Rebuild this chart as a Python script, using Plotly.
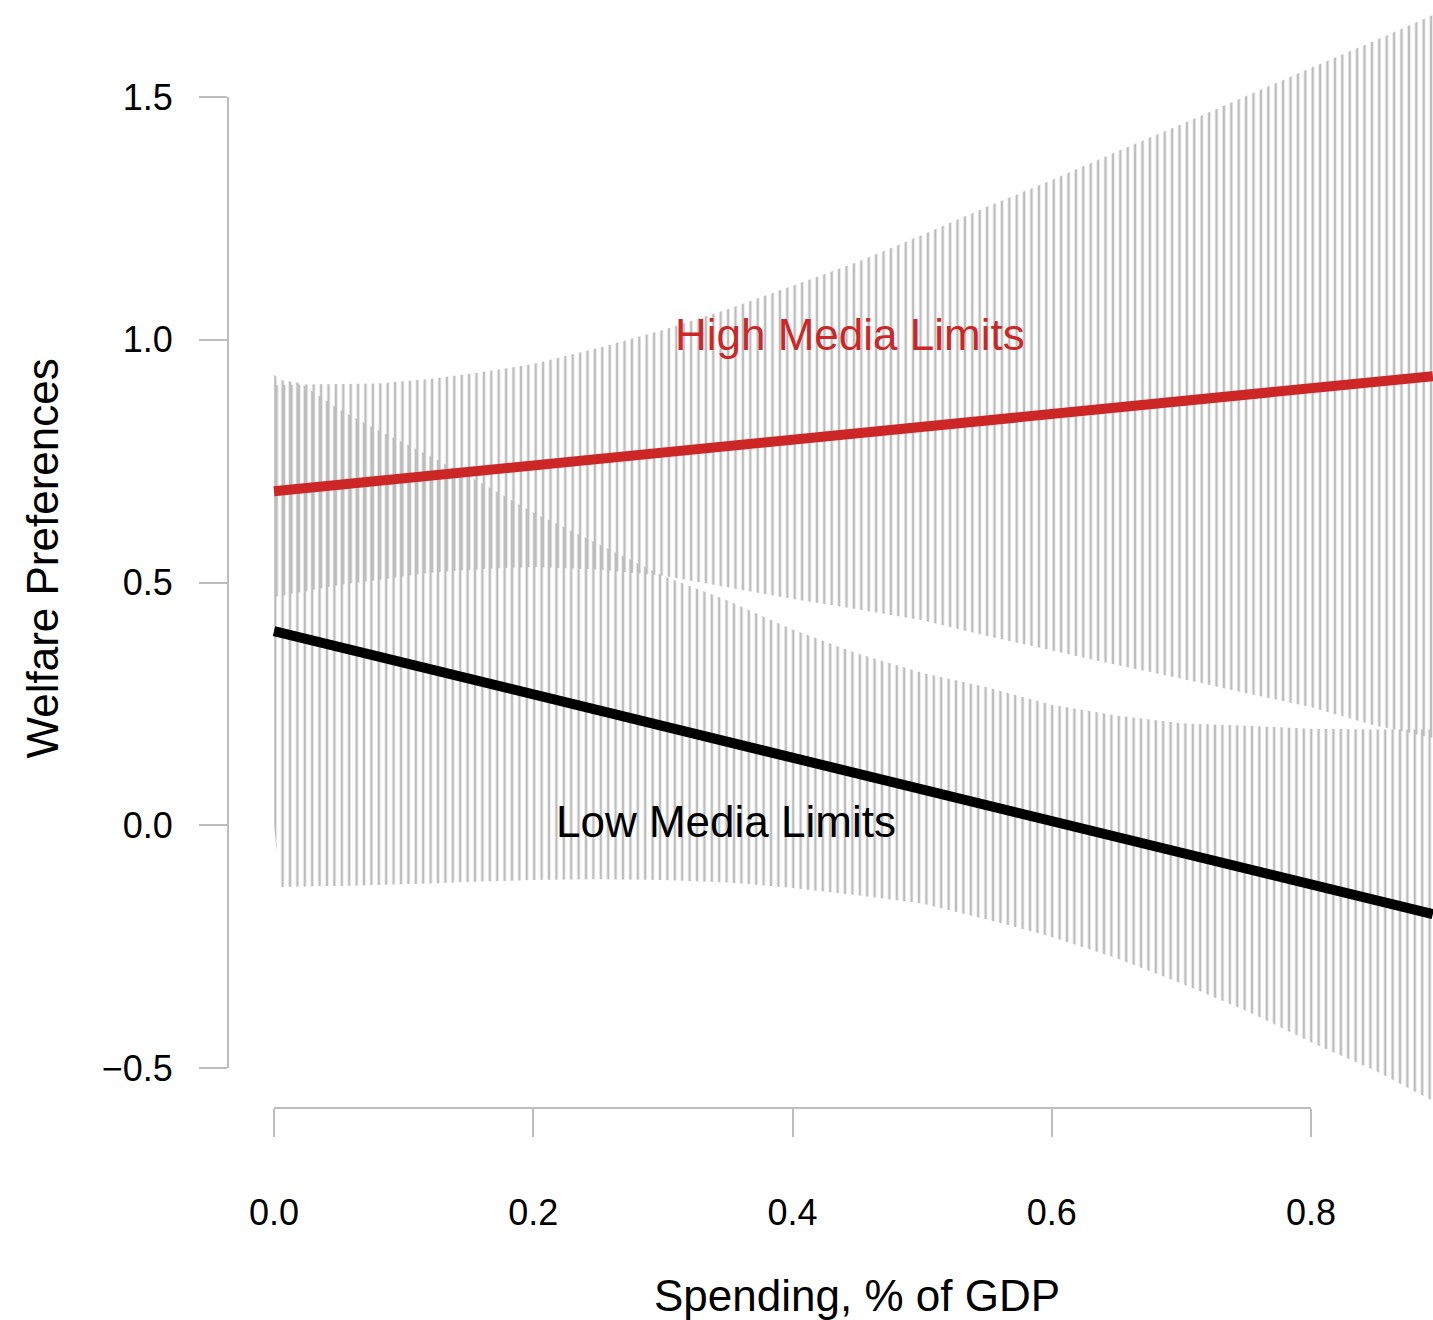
import plotly.graph_objects as go

# ---------------- data ----------------
x_grid = [0.0, 0.005, 0.02, 0.05, 0.08, 0.12, 0.16, 0.20, 0.25, 0.30, 0.35,
          0.40, 0.45, 0.50, 0.55, 0.60, 0.65, 0.70, 0.75, 0.80, 0.85, 0.894]

high_upper = [0.906, 0.907, 0.908, 0.909, 0.910, 0.919, 0.933, 0.950, 0.983, 1.020, 1.063,
              1.111, 1.160, 1.216, 1.274, 1.329, 1.387, 1.444, 1.502, 1.560, 1.617, 1.669]
high_lower = [0.470, 0.472, 0.480, 0.495, 0.505, 0.520, 0.528, 0.532, 0.527, 0.514, 0.490,
              0.466, 0.445, 0.422, 0.390, 0.360, 0.330, 0.302, 0.272, 0.243, 0.205, 0.180]

low_upper = [0.928, 0.917, 0.911, 0.857, 0.814, 0.761, 0.705, 0.644, 0.580, 0.514, 0.463,
             0.403, 0.354, 0.314, 0.284, 0.248, 0.226, 0.210, 0.205, 0.199, 0.197, 0.197]
low_lower = [0.000, -0.127, -0.126, -0.125, -0.123, -0.120, -0.116, -0.113, -0.111, -0.113, -0.118,
             -0.129, -0.144, -0.161, -0.194, -0.230, -0.274, -0.326, -0.382, -0.447, -0.506, -0.568]

line_x = [0.0, 0.894]
high_mean = [0.688, 0.925]
low_mean = [0.400, -0.183]

x_tickvals = [0.0, 0.2, 0.4, 0.6, 0.8]
x_ticktext = ["0.0", "0.2", "0.4", "0.6", "0.8"]
y_tickvals = [-0.5, 0.0, 0.5, 1.0, 1.5]
y_ticktext = ["\u22120.5", "0.0", "0.5", "1.0", "1.5"]

label_high = "High Media Limits"
label_low = "Low Media Limits"
x_title = "Spending, % of GDP"
y_title = "Welfare Preferences"

# ---------------- layout geometry ----------------
W, H = 1433, 1320
ML, MR, MT, MB = 228, 0, 0, 212
PW, PH = W - ML - MR, H - MT - MB
X0_PX, PX_PER_X = 274.0, 1296.25          # pixel of x=0, pixels per x unit
Y0_PX, PX_PER_Y = 825.25, 485.5           # pixel of y=0, pixels per y unit


def x_at(px):
    return (px - X0_PX) / PX_PER_X


def y_at(py):
    return (Y0_PX - py) / PX_PER_Y


x_range = [x_at(ML), x_at(W - MR)]
y_range = [y_at(H - MB), y_at(MT)]

PAT = 7.4        # hatch spacing, px
SOLID = 0.34     # hatch line thickness fraction
GRAY = "#bdbdbd"
RED = "#cd2626"
FONT = "Liberation Sans, Arial, Helvetica, sans-serif"

# hatch phase: put one hatch line just right of x=0 for each band (slightly offset)
low_left_px = X0_PX + 1.2 - PAT / 2 - 5 * PAT
high_left_px = X0_PX + 2.7 - PAT / 2 - 5 * PAT


def band_axes(left_px):
    dom = [(left_px - ML) / PW, 1.0]
    rng = [x_at(left_px), x_at(W - MR)]
    return dom, rng


low_dom, low_rng = band_axes(low_left_px)
high_dom, high_rng = band_axes(high_left_px)

pattern = dict(shape="|", size=PAT, solidity=SOLID, fgcolor=GRAY,
               bgcolor="rgba(0,0,0,0)", fillmode="overlay", fgopacity=1)

fig = go.Figure()

fig.add_trace(go.Scatter(
    x=x_grid + x_grid[::-1], y=low_upper + low_lower[::-1],
    mode="none", fill="toself", fillcolor="rgba(0,0,0,0)", fillpattern=pattern,
    xaxis="x2", yaxis="y2", hoverinfo="skip", showlegend=False))

fig.add_trace(go.Scatter(
    x=x_grid + x_grid[::-1], y=high_upper + high_lower[::-1],
    mode="none", fill="toself", fillcolor="rgba(0,0,0,0)", fillpattern=pattern,
    xaxis="x3", yaxis="y3", hoverinfo="skip", showlegend=False))

fig.add_trace(go.Scatter(
    x=line_x, y=high_mean, mode="lines", line=dict(color=RED, width=10),
    xaxis="x3", yaxis="y3", hoverinfo="skip", showlegend=False))

fig.add_trace(go.Scatter(
    x=line_x, y=low_mean, mode="lines", line=dict(color="black", width=10),
    xaxis="x3", yaxis="y3", hoverinfo="skip", showlegend=False))

tickfont = dict(family=FONT, size=36, color="black")

fig.update_layout(
    width=W, height=H,
    margin=dict(l=ML, r=MR, t=MT, b=MB, autoexpand=False),
    paper_bgcolor="white", plot_bgcolor="rgba(0,0,0,0)",
    showlegend=False,
    xaxis=dict(range=x_range, domain=[0, 1], tickvals=x_tickvals, ticktext=x_ticktext,
               ticks="outside", ticklen=28, tickwidth=2, tickcolor=GRAY,
               showline=False, showgrid=False, zeroline=False,
               tickfont=tickfont, ticklabelstandoff=45, fixedrange=True),
    yaxis=dict(range=y_range, domain=[0, 1], tickvals=y_tickvals, ticktext=y_ticktext,
               ticks="outside", ticklen=28, tickwidth=2, tickcolor=GRAY,
               showline=False, showgrid=False, zeroline=False,
               tickfont=tickfont, ticklabelstandoff=19, fixedrange=True),
    xaxis2=dict(range=low_rng, domain=low_dom, anchor="y2", visible=False, fixedrange=True),
    yaxis2=dict(range=y_range, domain=[0, 1], anchor="x2", visible=False, fixedrange=True),
    xaxis3=dict(range=high_rng, domain=high_dom, anchor="y3", visible=False, fixedrange=True),
    yaxis3=dict(range=y_range, domain=[0, 1], anchor="x3", visible=False, fixedrange=True),
    shapes=[
        dict(type="line", xref="paper", yref="y", x0=0, x1=0,
             y0=min(y_tickvals), y1=max(y_tickvals), line=dict(color=GRAY, width=2)),
        dict(type="line", xref="x", yref="paper", x0=min(x_tickvals), x1=max(x_tickvals),
             y0=0, y1=0, line=dict(color=GRAY, width=2)),
    ],
    annotations=[
        dict(text=label_high, x=x_at(850), y=y_at(334), xref="x", yref="y",
             showarrow=False, xanchor="center", yanchor="middle",
             font=dict(family=FONT, size=44, color=RED)),
        dict(text=label_low, x=x_at(725.5), y=y_at(821), xref="x", yref="y",
             showarrow=False, xanchor="center", yanchor="middle",
             font=dict(family=FONT, size=44, color="black")),
        dict(text=x_title, x=(857 - ML) / PW, y=(PH + MT - 1295) / PH,
             xref="paper", yref="paper", showarrow=False,
             xanchor="center", yanchor="middle",
             font=dict(family=FONT, size=44, color="black")),
        dict(text=y_title, x=(42 - ML) / PW, y=(PH + MT - 558.5) / PH,
             xref="paper", yref="paper", showarrow=False, textangle=-90,
             xanchor="center", yanchor="middle",
             font=dict(family=FONT, size=44, color="black")),
    ],
)

fig.write_html("out.html", config={"displayModeBar": False},
               post_script="document.body.style.margin='0';"
                           "document.body.style.overflow='hidden';")
